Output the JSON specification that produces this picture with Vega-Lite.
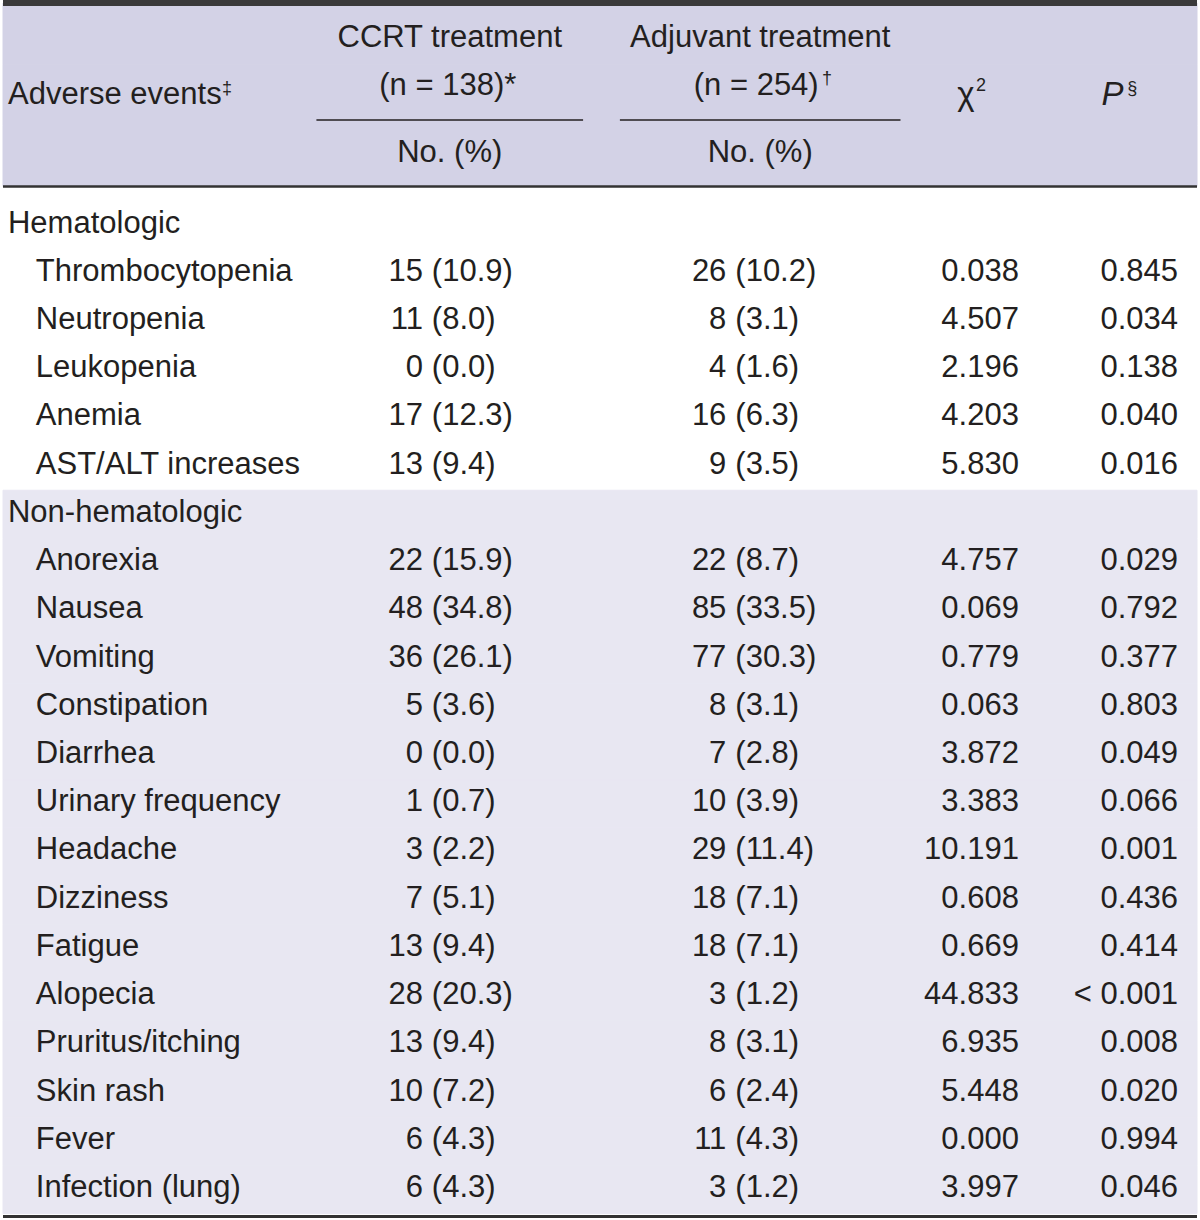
{
  "$schema": "https://vega.github.io/schema/vega-lite/v6.json",
  "width": 1200,
  "height": 1220,
  "autosize": {"type": "fit", "contains": "padding"},
  "padding": 0,
  "background": "#ffffff",
  "config": {
    "view": {"stroke": null},
    "axis": {"disable": true},
    "text": {"font": "Liberation Sans", "fontSize": 31, "color": "#231f20", "baseline": "alphabetic"}
  },
  "datasets": {
    "body": [
      {"event": "Hematologic", "kind": "section", "group": "Hematologic"},
      {"event": "Thrombocytopenia", "kind": "item", "group": "Hematologic", "ccrt_n": "15", "ccrt_pct": "(10.9)", "adj_n": "26", "adj_pct": "(10.2)", "chi2": "0.038", "p": "0.845"},
      {"event": "Neutropenia", "kind": "item", "group": "Hematologic", "ccrt_n": "11", "ccrt_pct": "(8.0)", "adj_n": "8", "adj_pct": "(3.1)", "chi2": "4.507", "p": "0.034"},
      {"event": "Leukopenia", "kind": "item", "group": "Hematologic", "ccrt_n": "0", "ccrt_pct": "(0.0)", "adj_n": "4", "adj_pct": "(1.6)", "chi2": "2.196", "p": "0.138"},
      {"event": "Anemia", "kind": "item", "group": "Hematologic", "ccrt_n": "17", "ccrt_pct": "(12.3)", "adj_n": "16", "adj_pct": "(6.3)", "chi2": "4.203", "p": "0.040"},
      {"event": "AST/ALT increases", "kind": "item", "group": "Hematologic", "ccrt_n": "13", "ccrt_pct": "(9.4)", "adj_n": "9", "adj_pct": "(3.5)", "chi2": "5.830", "p": "0.016"},
      {"event": "Non-hematologic", "kind": "section", "group": "Non-hematologic"},
      {"event": "Anorexia", "kind": "item", "group": "Non-hematologic", "ccrt_n": "22", "ccrt_pct": "(15.9)", "adj_n": "22", "adj_pct": "(8.7)", "chi2": "4.757", "p": "0.029"},
      {"event": "Nausea", "kind": "item", "group": "Non-hematologic", "ccrt_n": "48", "ccrt_pct": "(34.8)", "adj_n": "85", "adj_pct": "(33.5)", "chi2": "0.069", "p": "0.792"},
      {"event": "Vomiting", "kind": "item", "group": "Non-hematologic", "ccrt_n": "36", "ccrt_pct": "(26.1)", "adj_n": "77", "adj_pct": "(30.3)", "chi2": "0.779", "p": "0.377"},
      {"event": "Constipation", "kind": "item", "group": "Non-hematologic", "ccrt_n": "5", "ccrt_pct": "(3.6)", "adj_n": "8", "adj_pct": "(3.1)", "chi2": "0.063", "p": "0.803"},
      {"event": "Diarrhea", "kind": "item", "group": "Non-hematologic", "ccrt_n": "0", "ccrt_pct": "(0.0)", "adj_n": "7", "adj_pct": "(2.8)", "chi2": "3.872", "p": "0.049"},
      {"event": "Urinary frequency", "kind": "item", "group": "Non-hematologic", "ccrt_n": "1", "ccrt_pct": "(0.7)", "adj_n": "10", "adj_pct": "(3.9)", "chi2": "3.383", "p": "0.066"},
      {"event": "Headache", "kind": "item", "group": "Non-hematologic", "ccrt_n": "3", "ccrt_pct": "(2.2)", "adj_n": "29", "adj_pct": "(11.4)", "chi2": "10.191", "p": "0.001"},
      {"event": "Dizziness", "kind": "item", "group": "Non-hematologic", "ccrt_n": "7", "ccrt_pct": "(5.1)", "adj_n": "18", "adj_pct": "(7.1)", "chi2": "0.608", "p": "0.436"},
      {"event": "Fatigue", "kind": "item", "group": "Non-hematologic", "ccrt_n": "13", "ccrt_pct": "(9.4)", "adj_n": "18", "adj_pct": "(7.1)", "chi2": "0.669", "p": "0.414"},
      {"event": "Alopecia", "kind": "item", "group": "Non-hematologic", "ccrt_n": "28", "ccrt_pct": "(20.3)", "adj_n": "3", "adj_pct": "(1.2)", "chi2": "44.833", "p": "< 0.001"},
      {"event": "Pruritus/itching", "kind": "item", "group": "Non-hematologic", "ccrt_n": "13", "ccrt_pct": "(9.4)", "adj_n": "8", "adj_pct": "(3.1)", "chi2": "6.935", "p": "0.008"},
      {"event": "Skin rash", "kind": "item", "group": "Non-hematologic", "ccrt_n": "10", "ccrt_pct": "(7.2)", "adj_n": "6", "adj_pct": "(2.4)", "chi2": "5.448", "p": "0.020"},
      {"event": "Fever", "kind": "item", "group": "Non-hematologic", "ccrt_n": "6", "ccrt_pct": "(4.3)", "adj_n": "11", "adj_pct": "(4.3)", "chi2": "0.000", "p": "0.994"},
      {"event": "Infection (lung)", "kind": "item", "group": "Non-hematologic", "ccrt_n": "6", "ccrt_pct": "(4.3)", "adj_n": "3", "adj_pct": "(1.2)", "chi2": "3.997", "p": "0.046"}
    ]
  },
  "resolve": {"scale": {"y": "independent"}},
  "layer": [
    {
      "data": {"values": [{"h": "l1"}, {"h": "l2"}, {"h": "l3"}]},
      "layer": [
        {
          "mark": {"type": "rect", "color": "#d3d2e6", "stroke": "#d3d2e6", "strokeWidth": 1},
          "encoding": {
            "y": {"field": "h", "type": "nominal", "scale": {"domain": ["l1", "l2", "l3"], "range": [0, 183.5], "paddingInner": 0, "paddingOuter": 0}},
            "x": {"datum": 0, "type": "quantitative", "scale": {"domain": [0, 1200], "nice": false, "zero": false}},
            "x2": {"datum": 1200}
          }
        },
        {
          "data": {"values": [{"t": "Adverse events"}]},
          "mark": {"type": "text", "align": "left", "dy": 9.5},
          "encoding": {"x": {"datum": 5, "type": "quantitative"}, "y": {"datum": "l2", "type": "nominal"}, "text": {"field": "t", "type": "nominal"}}
        },
        {
          "data": {"values": [{"t": "‡"}]},
          "mark": {"type": "text", "align": "left", "fontSize": 18, "dy": -1},
          "encoding": {"x": {"datum": 220, "type": "quantitative"}, "y": {"datum": "l2", "type": "nominal"}, "text": {"field": "t", "type": "nominal"}}
        },
        {
          "data": {"values": [{"t": "CCRT treatment"}]},
          "mark": {"type": "text", "align": "center", "dy": 13.6},
          "encoding": {"x": {"datum": 449, "type": "quantitative"}, "y": {"datum": "l1", "type": "nominal"}, "text": {"field": "t", "type": "nominal"}}
        },
        {
          "data": {"values": [{"t": "(n = 138)*"}]},
          "mark": {"type": "text", "align": "center", "dy": 0.5},
          "encoding": {"x": {"datum": 447, "type": "quantitative"}, "y": {"datum": "l2", "type": "nominal"}, "text": {"field": "t", "type": "nominal"}}
        },
        {
          "data": {"values": [{"t": "Adjuvant treatment"}]},
          "mark": {"type": "text", "align": "center", "dy": 13.6},
          "encoding": {"x": {"datum": 761, "type": "quantitative"}, "y": {"datum": "l1", "type": "nominal"}, "text": {"field": "t", "type": "nominal"}}
        },
        {
          "data": {"values": [{"t": "(n = 254)"}]},
          "mark": {"type": "text", "align": "center", "dy": 0.5},
          "encoding": {"x": {"datum": 757, "type": "quantitative"}, "y": {"datum": "l2", "type": "nominal"}, "text": {"field": "t", "type": "nominal"}}
        },
        {
          "data": {"values": [{"t": "†"}]},
          "mark": {"type": "text", "align": "left", "fontSize": 18, "dy": -11},
          "encoding": {"x": {"datum": 823, "type": "quantitative"}, "y": {"datum": "l2", "type": "nominal"}, "text": {"field": "t", "type": "nominal"}}
        },
        {
          "data": {"values": [{"t": "No. (%)"}]},
          "mark": {"type": "text", "align": "center", "dy": 6.5},
          "encoding": {"x": {"datum": 449, "type": "quantitative"}, "y": {"datum": "l3", "type": "nominal"}, "text": {"field": "t", "type": "nominal"}}
        },
        {
          "data": {"values": [{"t": "No. (%)"}]},
          "mark": {"type": "text", "align": "center", "dy": 6.5},
          "encoding": {"x": {"datum": 761, "type": "quantitative"}, "y": {"datum": "l3", "type": "nominal"}, "text": {"field": "t", "type": "nominal"}}
        },
        {
          "data": {"values": [{"t": "χ"}]},
          "mark": {"type": "text", "align": "left", "fontSize": 33, "dy": 10},
          "encoding": {"x": {"datum": 959, "type": "quantitative"}, "y": {"datum": "l2", "type": "nominal"}, "text": {"field": "t", "type": "nominal"}}
        },
        {
          "data": {"values": [{"t": "2"}]},
          "mark": {"type": "text", "align": "left", "fontSize": 18, "dy": -4},
          "encoding": {"x": {"datum": 978, "type": "quantitative"}, "y": {"datum": "l2", "type": "nominal"}, "text": {"field": "t", "type": "nominal"}}
        },
        {
          "data": {"values": [{"t": "P"}]},
          "mark": {"type": "text", "align": "left", "fontStyle": "italic", "fontSize": 33, "dy": 10},
          "encoding": {"x": {"datum": 1104, "type": "quantitative"}, "y": {"datum": "l2", "type": "nominal"}, "text": {"field": "t", "type": "nominal"}}
        },
        {
          "data": {"values": [{"t": "§"}]},
          "mark": {"type": "text", "align": "left", "fontSize": 18, "dy": -1},
          "encoding": {"x": {"datum": 1130, "type": "quantitative"}, "y": {"datum": "l2", "type": "nominal"}, "text": {"field": "t", "type": "nominal"}}
        },
        {
          "data": {"values": [{"r": "top"}]},
          "mark": {"type": "rule", "color": "#3a3a3a", "strokeWidth": 6},
          "encoding": {"y": {"datum": "l1", "type": "nominal", "bandPosition": 0}, "x": {"datum": 0, "type": "quantitative"}, "x2": {"datum": 1200}}
        },
        {
          "data": {"values": [{"r": "headbottom"}]},
          "mark": {"type": "rule", "color": "#333333", "strokeWidth": 2.5},
          "encoding": {"y": {"datum": "l3", "type": "nominal", "bandPosition": 1}, "x": {"datum": 0, "type": "quantitative"}, "x2": {"datum": 1200}}
        },
        {
          "data": {"values": [{"r": "ccrt"}]},
          "mark": {"type": "rule", "color": "#231f20", "strokeWidth": 1.6},
          "encoding": {"y": {"datum": "l2", "type": "nominal", "bandPosition": 0.913}, "x": {"datum": 315, "type": "quantitative"}, "x2": {"datum": 583}}
        },
        {
          "data": {"values": [{"r": "adj"}]},
          "mark": {"type": "rule", "color": "#231f20", "strokeWidth": 1.6},
          "encoding": {"y": {"datum": "l2", "type": "nominal", "bandPosition": 0.913}, "x": {"datum": 620, "type": "quantitative"}, "x2": {"datum": 902}}
        }
      ]
    },
    {
      "data": {"name": "body"},
      "layer": [
        {
          "transform": [{"filter": "datum.group === 'Non-hematologic'"}],
          "mark": {"type": "rect", "color": "#e8e7f2", "stroke": "#e8e7f2", "strokeWidth": 1},
          "encoding": {
            "y": {"field": "event", "type": "nominal", "sort": null, "scale": {"domain": ["Hematologic", "Thrombocytopenia", "Neutropenia", "Leukopenia", "Anemia", "AST/ALT increases", "Non-hematologic", "Anorexia", "Nausea", "Vomiting", "Constipation", "Diarrhea", "Urinary frequency", "Headache", "Dizziness", "Fatigue", "Alopecia", "Pruritus/itching", "Skin rash", "Fever", "Infection (lung)"], "range": [197.9, 1210.6], "paddingInner": 0, "paddingOuter": 0}},
            "x": {"datum": 0, "type": "quantitative"},
            "x2": {"datum": 1200}
          }
        },
        {
          "transform": [{"filter": "datum.kind === 'section'"}],
          "mark": {"type": "text", "align": "left", "dy": 7.5},
          "encoding": {"x": {"datum": 5, "type": "quantitative"}, "y": {"field": "event", "type": "nominal", "sort": null}, "text": {"field": "event", "type": "nominal"}}
        },
        {
          "transform": [{"filter": "datum.kind === 'item'"}],
          "mark": {"type": "text", "align": "left", "dy": 7.5},
          "encoding": {"x": {"datum": 33, "type": "quantitative"}, "y": {"field": "event", "type": "nominal", "sort": null}, "text": {"field": "event", "type": "nominal"}}
        },
        {
          "transform": [{"filter": "datum.kind === 'item'"}],
          "mark": {"type": "text", "align": "right", "dy": 7.5},
          "encoding": {"x": {"datum": 422, "type": "quantitative"}, "y": {"field": "event", "type": "nominal", "sort": null}, "text": {"field": "ccrt_n", "type": "nominal"}}
        },
        {
          "transform": [{"filter": "datum.kind === 'item'"}],
          "mark": {"type": "text", "align": "left", "dy": 7.5},
          "encoding": {"x": {"datum": 431, "type": "quantitative"}, "y": {"field": "event", "type": "nominal", "sort": null}, "text": {"field": "ccrt_pct", "type": "nominal"}}
        },
        {
          "transform": [{"filter": "datum.kind === 'item'"}],
          "mark": {"type": "text", "align": "right", "dy": 7.5},
          "encoding": {"x": {"datum": 727, "type": "quantitative"}, "y": {"field": "event", "type": "nominal", "sort": null}, "text": {"field": "adj_n", "type": "nominal"}}
        },
        {
          "transform": [{"filter": "datum.kind === 'item'"}],
          "mark": {"type": "text", "align": "left", "dy": 7.5},
          "encoding": {"x": {"datum": 736, "type": "quantitative"}, "y": {"field": "event", "type": "nominal", "sort": null}, "text": {"field": "adj_pct", "type": "nominal"}}
        },
        {
          "transform": [{"filter": "datum.kind === 'item'"}],
          "mark": {"type": "text", "align": "right", "dy": 7.5},
          "encoding": {"x": {"datum": 1021, "type": "quantitative"}, "y": {"field": "event", "type": "nominal", "sort": null}, "text": {"field": "chi2", "type": "nominal"}}
        },
        {
          "transform": [{"filter": "datum.kind === 'item'"}],
          "mark": {"type": "text", "align": "right", "dy": 7.5},
          "encoding": {"x": {"datum": 1181, "type": "quantitative"}, "y": {"field": "event", "type": "nominal", "sort": null}, "text": {"field": "p", "type": "nominal"}}
        },
        {
          "transform": [{"filter": "datum.event === 'Infection (lung)'"}],
          "mark": {"type": "rule", "color": "#333333", "strokeWidth": 3},
          "encoding": {"y": {"field": "event", "type": "nominal", "sort": null, "bandPosition": 1.06}, "x": {"datum": 0, "type": "quantitative"}, "x2": {"datum": 1200}}
        }
      ]
    }
  ]
}
